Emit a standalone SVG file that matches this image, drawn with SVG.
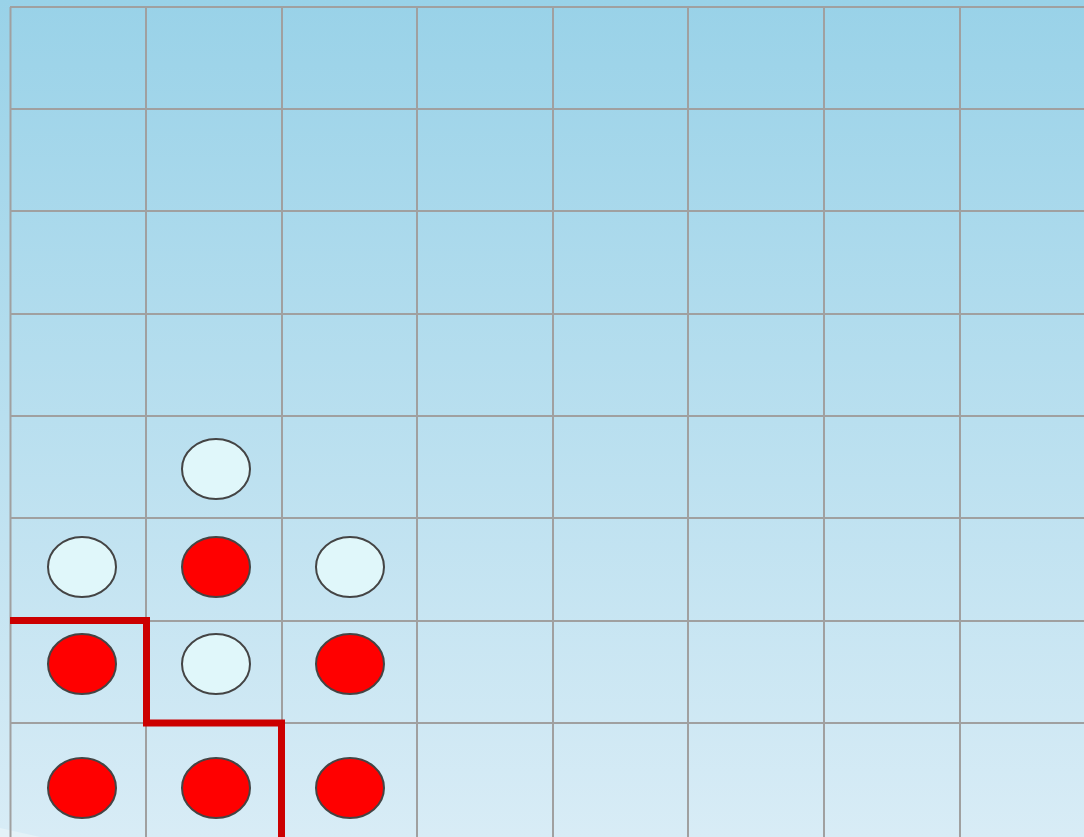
<svg xmlns="http://www.w3.org/2000/svg" width="1084" height="837" viewBox="0 0 1084 837">
<defs>
<linearGradient id="bg" x1="0" y1="0" x2="0" y2="1">
<stop offset="0" stop-color="#99d2e8"/>
<stop offset="1" stop-color="#d8ecf6"/>
</linearGradient>
<style>
.grid{stroke:#a0a0a0;stroke-width:2;fill:none}
.red{fill:#ff0000;stroke:#444;stroke-width:2}
.light{fill:#e0f7fa;stroke:#444;stroke-width:2}
.path{fill:none;stroke:#cc0000;stroke-width:7;stroke-linejoin:miter}
</style>
</defs>
<rect width="1084" height="837" fill="url(#bg)"/>
<path d="M0,828 L40,837 L0,837 Z" fill="#e4f2f8"/>
<g id="grid" class="grid">
<path d="M10,7H1084M10,109H1084M10,211H1084M10,314H1084M10,416H1084M10,518H1084M10,621H1084M10,723H1084"/>
<path d="M10.5,7V837M146,7V837M282,7V837M417,7V837M553,7V837M688,7V837M824,7V837M960,7V837"/>
</g>
<g id="connectors">
<path class="path" d="M10,620.5H146.5V723H281.5V837"/>
</g>
<g id="pieces">
<g id="p1"><ellipse class="light" cx="216" cy="469" rx="34" ry="30"/></g>
<g id="p2"><ellipse class="light" cx="82" cy="567" rx="34" ry="30"/></g>
<g id="p3"><ellipse class="red" cx="216" cy="567" rx="34" ry="30"/></g>
<g id="p4"><ellipse class="light" cx="350" cy="567" rx="34" ry="30"/></g>
<g id="p5"><ellipse class="red" cx="82" cy="664" rx="34" ry="30"/></g>
<g id="p6"><ellipse class="light" cx="216" cy="664" rx="34" ry="30"/></g>
<g id="p7"><ellipse class="red" cx="350" cy="664" rx="34" ry="30"/></g>
<g id="p8"><ellipse class="red" cx="82" cy="788" rx="34" ry="30"/></g>
<g id="p9"><ellipse class="red" cx="216" cy="788" rx="34" ry="30"/></g>
<g id="p10"><ellipse class="red" cx="350" cy="788" rx="34" ry="30"/></g>
</g>
</svg>
